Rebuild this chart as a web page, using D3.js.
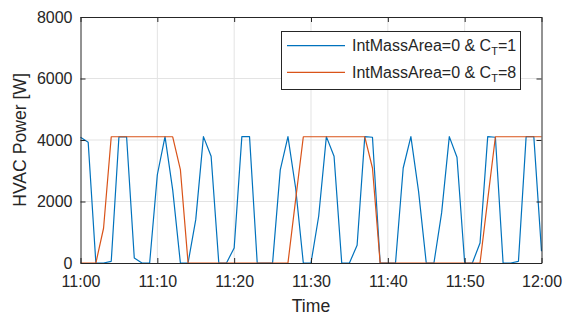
<!DOCTYPE html>
<html lang="en">

<head>
    <meta charset="utf-8">
    <style>
        body { margin: 0; background: #fff; }
        svg text { font-family: Arial, "Liberation Sans", Helvetica, sans-serif; fill: #262626; }
    </style>
</head>

<body>
    <svg width="565" height="316"></svg>
    <script src="https://d3js.org/d3.v7.min.js"></script>
    <script type="text/javascript">
    // minutes after 11:00, one sample per minute
    var minutes = d3.range(0, 61);

    // HVAC power [W], IntMassArea=0 & C_T=1
    var powerCT1 = [4088, 3925, 0, 0, 55, 4100, 4100, 160, 0, 0,
        2870, 4110, 2380, 0, 0, 1410, 4110, 3470, 0, 0,
        490, 4110, 4110, 0, 0, 0, 3030, 4110, 2440, 0,
        0, 1520, 4110, 3470, 0, 0, 575, 4110, 4090, 0,
        0, 0, 3090, 4110, 2330, 0, 0, 1630, 4110, 3440,
        0, 0, 650, 4110, 4090, 0, 0, 55, 4110, 4110,
        380];

    // HVAC power [W], IntMassArea=0 & C_T=8
    var powerCT8 = [0, 0, 0, 1130, 4105, 4105, 4105, 4105, 4105, 4105,
        4105, 4105, 4105, 3040, 0, 0, 0, 0, 0, 0,
        0, 0, 0, 0, 0, 0, 0, 0, 2060, 4105,
        4105, 4105, 4105, 4105, 4105, 4105, 4105, 4105, 3090, 0,
        0, 0, 0, 0, 0, 0, 0, 0, 0, 0,
        0, 0, 0, 2060, 4105, 4105, 4105, 4105, 4105, 4105,
        4105];

    var seriesNames = ["IntMassArea=0 & C|T|=1", "IntMassArea=0 & C|T|=8"];
    var seriesColors = ["#0072BD", "#D95319"];
    var yTicks = [0, 2000, 4000, 6000, 8000];
    var xTickMinutes = [0, 10, 20, 30, 40, 50, 60];

    var svg = d3.select("svg"),
        margin = { top: 17, right: 23.5, bottom: 53, left: 80.5 },
        width = +svg.attr("width") - margin.left - margin.right,
        height = +svg.attr("height") - margin.top - margin.bottom;

    var t0 = new Date(2020, 0, 1, 11, 0);
    function toTime(m) { return d3.timeMinute.offset(t0, m); }

    var x = d3.scaleTime().domain([toTime(0), toTime(60)]).range([0, width]),
        y = d3.scaleLinear().domain([0, 8000]).range([height, 0]);

    var g = svg.append("g")
        .attr("transform", "translate(" + margin.left + "," + margin.top + ")");

    //grid lines
    g.append("g").selectAll("line.gx")
        .data(xTickMinutes.slice(1, -1))
        .enter().append("line")
        .attr("x1", function(d) { return x(toTime(d)); })
        .attr("x2", function(d) { return x(toTime(d)); })
        .attr("y1", 0).attr("y2", height)
        .attr("stroke", "#e3e3e3").attr("stroke-width", 1);
    g.append("g").selectAll("line.gy")
        .data(yTicks.slice(1, -1))
        .enter().append("line")
        .attr("y1", function(d) { return y(d); })
        .attr("y2", function(d) { return y(d); })
        .attr("x1", 0).attr("x2", width)
        .attr("stroke", "#e3e3e3").attr("stroke-width", 1);

    //lines
    var line = d3.line()
        .x(function(d) { return x(toTime(d[0])); })
        .y(function(d) { return y(d[1]); });

    [powerCT1, powerCT8].forEach(function(vals, i) {
        g.append("path")
            .datum(minutes.map(function(m) { return [m, vals[m]]; }))
            .attr("fill", "none")
            .attr("stroke", seriesColors[i])
            .attr("stroke-width", 1.2)
            .attr("stroke-linejoin", "round")
            .attr("d", line);
    });

    //axes, ticks inward, box on
    var xTickVals = xTickMinutes.map(toTime);
    var fmt = d3.timeFormat("%H:%M");

    function styleAxis(sel) {
        sel.select(".domain").attr("stroke", "#262626");
        sel.selectAll(".tick line").attr("stroke", "#262626");
        sel.selectAll("text").attr("fill", "#262626").style("font-size", "16px")
            .style("font-family", "Arial, 'Liberation Sans', sans-serif");
    }

    g.append("g")
        .attr("transform", "translate(0," + height + ")")
        .call(d3.axisBottom(x).tickValues(xTickVals).tickFormat(fmt).tickSizeInner(-5).tickSizeOuter(0).tickPadding(13))
        .call(styleAxis);
    g.append("g")
        .call(d3.axisTop(x).tickValues(xTickVals).tickSizeInner(-5).tickSizeOuter(0).tickFormat(""))
        .call(styleAxis);
    g.append("g")
        .call(d3.axisLeft(y).tickValues(yTicks).tickFormat(d3.format("d")).tickSizeInner(-5).tickSizeOuter(0).tickPadding(8))
        .call(styleAxis);
    g.append("g")
        .attr("transform", "translate(" + width + ",0)")
        .call(d3.axisRight(y).tickValues(yTicks).tickSizeInner(-5).tickSizeOuter(0).tickFormat(""))
        .call(styleAxis);

    //axis labels
    svg.append("text")
        .attr("x", margin.left + width / 2)
        .attr("y", 312)
        .attr("text-anchor", "middle")
        .style("font-size", "17.6px")
        .text("Time");
    svg.append("text")
        .attr("transform", "translate(26," + (margin.top + height / 2) + ") rotate(-90)")
        .attr("text-anchor", "middle")
        .style("font-size", "17.6px")
        .text("HVAC Power [W]");

    //legend
    var legend = svg.append("g").attr("transform", "translate(281,31)");
    legend.append("rect")
        .attr("x", 0.5).attr("y", 0.5)
        .attr("width", 239).attr("height", 58)
        .attr("fill", "#fff").attr("stroke", "#262626").attr("stroke-width", 1);

    seriesNames.forEach(function(name, i) {
        var yy = 14.7 + i * 26.6;
        legend.append("line")
            .attr("x1", 6).attr("x2", 64)
            .attr("y1", yy).attr("y2", yy)
            .attr("stroke", seriesColors[i]).attr("stroke-width", 1.2);
        var parts = name.split("|");
        var txt = legend.append("text")
            .attr("x", 71).attr("y", yy + 5.5)
            .style("font-size", "16px");
        txt.append("tspan").text(parts[0]);
        txt.append("tspan").attr("dy", 4).style("font-size", "11px").text(parts[1]);
        txt.append("tspan").attr("dy", -4).text(parts[2]);
    });
    </script>
</body>

</html>
